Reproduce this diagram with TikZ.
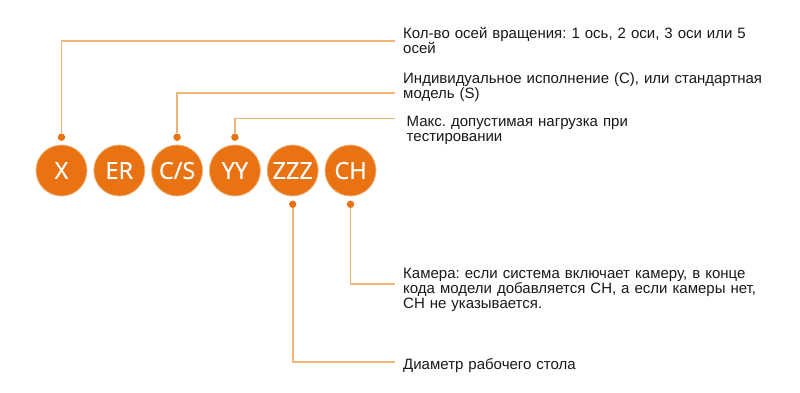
\documentclass[tikz,border=0pt]{standalone}
\usepackage{fontspec}
\setmainfont{Liberation Sans}
\newfontfamily\circfont[FakeBold=0.6]{Open Sans}
\definecolor{orangeMain}{RGB}{233,114,18}
\definecolor{orangeLine}{RGB}{240,180,122}
\definecolor{txtDark}{RGB}{25,25,25}
\frenchspacing
\begin{document}
\begin{tikzpicture}[x=1pt,y=-1pt,
  codecirc/.style={circle,fill=orangeMain,draw=orangeLine,line width=0.8pt,minimum size=51pt,inner sep=0pt,text=white,font=\circfont\fontsize{23.5}{24}\selectfont},
  leaddot/.style={circle,fill=orangeMain,minimum size=7.4pt,inner sep=0pt},
  leader/.style={draw=orangeLine,line width=1.8pt},
  desc/.style={anchor=base west,text width=390pt,align=left,inner sep=0pt,text=txtDark,font=\fontsize{15}{15}\selectfont}]
\useasboundingbox (0,0) rectangle (800,393);
\fill[white] (0,0) rectangle (800,393);

% circles
\node[codecirc] (cx) at (61.5,170.5) {X};
\node[codecirc] (cer) at (119.3,170.5) {ER};
\node[codecirc] (ccs) at (177.1,170.5) {C/S};
\node[codecirc] (cyy) at (234.9,170.5) {YY};
\node[codecirc] (czz) at (292.7,170.5) {ZZZ};
\node[codecirc] (cch) at (350.5,170.5) {CH};

% dots
\node[leaddot] (dx) at (61.5,137.2) {};
\node[leaddot] (dcs) at (177.1,137.2) {};
\node[leaddot] (dyy) at (234.9,137.2) {};
\node[leaddot] (dzz) at (292.7,204.3) {};
\node[leaddot] (dch) at (350.5,204.3) {};

% line ends
\coordinate (ex) at (395,40.7);
\coordinate (ecs) at (395,92.7);
\coordinate (eyy) at (395,118.5);
\coordinate (ech) at (395,284.3);
\coordinate (ezz) at (395,361.7);

\draw[leader] (dx.north) |- (ex);
\draw[leader] (dcs.north) |- (ecs);
\draw[leader] (dyy.north) |- (eyy);
\draw[leader] (dch.south) |- (ech);
\draw[leader] (dzz.south) |- (ezz);

% descriptions
\node[desc] (t1) at (403,38.5) {Кол-во осей вращения: 1 ось, 2 оси, 3 оси или 5\\осей};
\node[desc] (t2) at (403,84) {Индивидуальное исполнение (C), или стандартная\\модель (S)};
\node[desc] (t3) at (406.5,127) {Макс. допустимая нагрузка при\\тестировании};
\node[desc] (t4) at (403,278.8) {Камера: если система включает камеру, в конце\\кода модели добавляется CH, а если камеры нет,\\CH не указывается.};
\node[desc] (t5) at (403,369) {Диаметр рабочего стола};
\end{tikzpicture}
\end{document}
